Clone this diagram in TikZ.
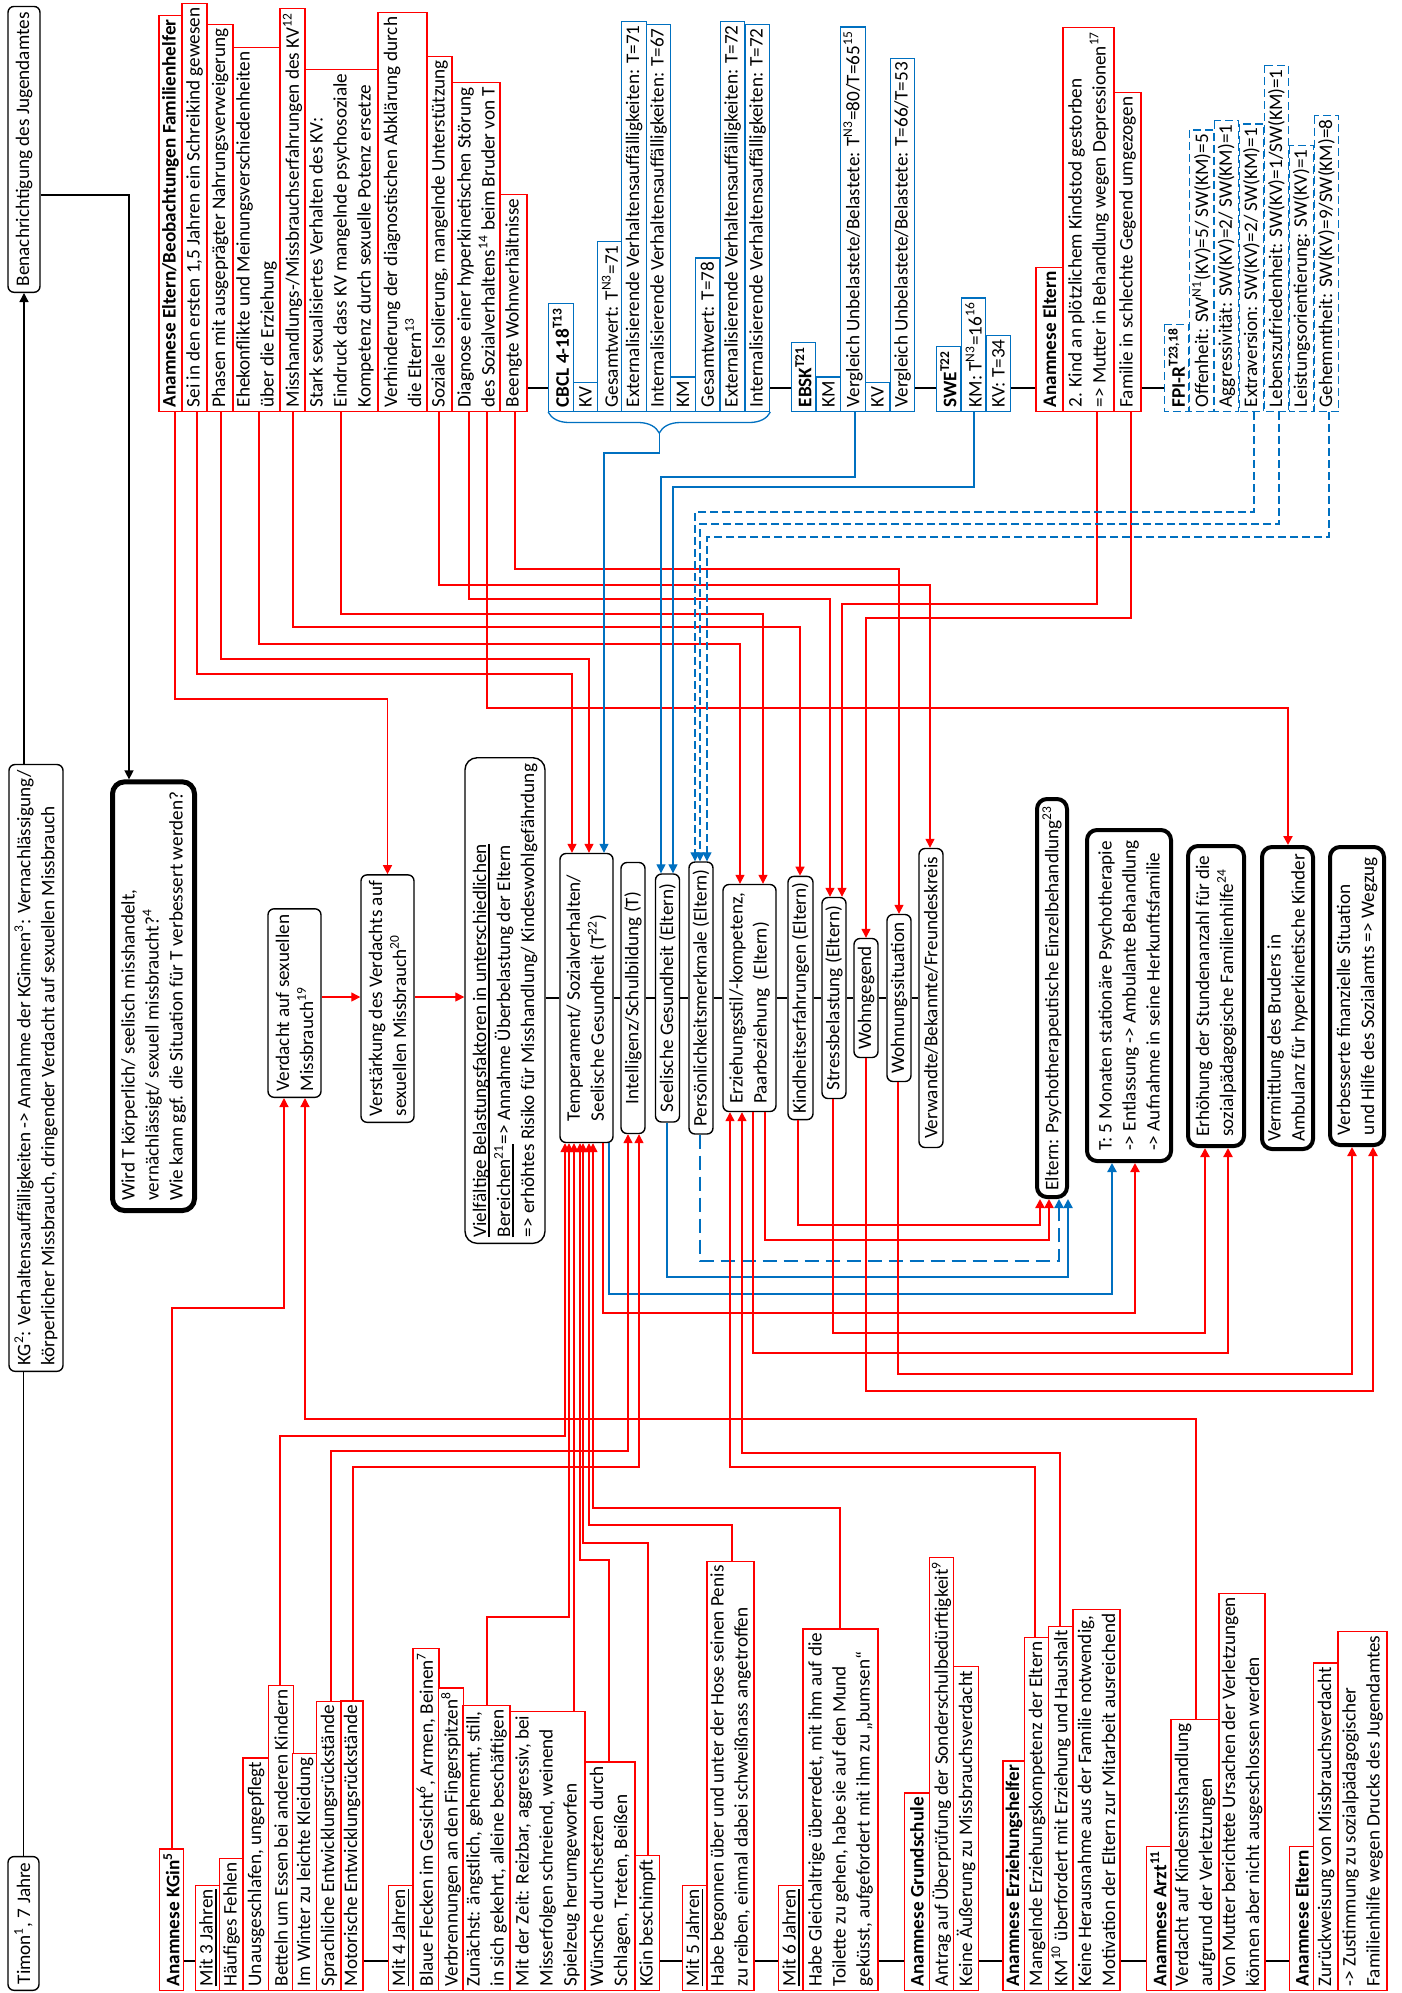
\documentclass[tikz,border=0pt]{standalone}
\usepackage{fontspec}
\setmainfont{Carlito}
\usetikzlibrary{arrows.meta}
\usetikzlibrary{decorations.pathreplacing}
\definecolor{msblue}{RGB}{0,112,192}
\newcommand{\ulbar}[1]{\setbox0=\hbox{#1}\rlap{\rule[-2pt]{\wd0}{0.8pt}}\box0}
\tikzset{
  every node/.style={rotate=90, font=\fontsize{9.6}{12}\selectfont},
  redbox/.style={draw=red, fill=white, line width=0.65pt, anchor=west, align=left, inner xsep=2pt, inner ysep=0.5pt, minimum height=12.25pt},
  bluebox/.style={redbox, draw=msblue},
  fpibox/.style={bluebox, dash pattern=on 4pt off 2pt},
  roundbox/.style={draw=black, fill=white, line width=0.7pt, rounded corners=3pt, align=left, inner xsep=3pt, inner ysep=0.5pt},
  thickbox/.style={roundbox, line width=2pt, rounded corners=5pt},
  redline/.style={red, line width=0.65pt},
  boldline/.style={red, line width=1.15pt},
  blueline/.style={msblue, line width=0.65pt},
  boldblue/.style={msblue, line width=1.15pt},
  dashblue/.style={msblue, line width=0.65pt, dash pattern=on 4pt off 2pt},
  bolddash/.style={msblue, line width=1.15pt, dash pattern=on 7pt off 3.5pt},
  blackline/.style={black, line width=0.7pt},
  arr/.style={-{Triangle[length=4.5pt,width=4.5pt]}}
}

\begin{document}
\begin{tikzpicture}[x=0.5pt, y=-0.5pt]
  \fill[white] (0,0) rectangle (1402,1993);
  \useasboundingbox (0,0) rectangle (1402,1993);

  \node[roundbox, anchor=west, minimum height=15.5pt] (timon) at (23.5,1991) {Timon\textsuperscript{1}, 7 Jahre};
  \node[roundbox, anchor=west, minimum height=27pt] (kgbox) at (36,1372) {KG\textsuperscript{2}: Verhaltensauffälligkeiten -> Annahme der KGinnen\textsuperscript{3}: Vernachlässigung/\\körperlicher Missbrauch, dringender Verdacht auf sexuellen Missbrauch};
  \node[roundbox, anchor=west, minimum height=16pt] (jugend) at (24,293) {Benachrichtigung des Jugendamtes};

  \node[redbox, minimum height=11.5pt] (eb0) at (170.5,412) {\textbf{Anamnese Eltern/Beobachtungen Familienhelfer}};
  \node[redbox, minimum height=12.5pt] (eb1) at (194.5,412) {Sei in den ersten 1,5 Jahren ein Schreikind gewesen};
  \node[redbox, minimum height=13pt] (eb2) at (220,412) {Phasen mit ausgeprägter Nahrungsverweigerung};
  \node[redbox, minimum height=23.5pt] (eb3) at (256.5,412) {Ehekonflikte und Meinungsverschiedenheiten\\über die Erziehung};
  \node[redbox, minimum height=12.5pt] (eb4) at (292.5,412) {Misshandlungs-/Missbrauchserfahrungen des KV\textsuperscript{12}};
  \node[redbox, minimum height=36.5pt] (eb5) at (341.5,412) {Stark sexualisiertes Verhalten des KV:\\Eindruck dass KV mangelnde psychosoziale\\Kompetenz durch sexuelle Potenz ersetze};
  \node[redbox, minimum height=24.5pt] (eb6) at (402.5,412) {Verhinderung der diagnostischen Abklärung durch\\die Eltern\textsuperscript{13}};
  \node[redbox, minimum height=12.5pt] (eb7) at (439.5,412) {Soziale Isolierung, mangelnde Unterstützung};
  \node[redbox, minimum height=24pt] (eb8) at (476,412) {Diagnose einer hyperkinetischen Störung\\des Sozialverhaltens\textsuperscript{14} beim Bruder von T};
  \node[redbox, minimum height=13.5pt] (eb9) at (513.5,412) {Beengte Wohnverhältnisse};

  \node[bluebox] (cbcl) at (561,412) {\textbf{CBCL 4-18}\textsuperscript{\textbf{T13}}};
  \node[bluebox] (cb1) at (585.5,412) {KV};
  \node[bluebox] (cb2) at (610,412) {Gesamtwert: T\textsuperscript{N3}=71};
  \node[bluebox] (cb3) at (634,412) {Externalisierende Verhaltensauffälligkeiten: T=71};
  \node[bluebox] (cb4) at (658.5,412) {Internalisierende Verhaltensauffälligkeiten: T=67};
  \node[bluebox] (cb5) at (683,412) {KM};
  \node[bluebox] (cb6) at (707.5,412) {Gesamtwert: T=78};
  \node[bluebox] (cb7) at (732.5,412) {Externalisierende Verhaltensauffälligkeiten: T=72};
  \node[bluebox] (cb8) at (757.5,412) {Internalisierende Verhaltensauffälligkeiten: T=72};
  \node[bluebox] (ebsk) at (803.5,412) {\textbf{EBSK}\textsuperscript{\textbf{T21}}};
  \node[bluebox] (ebs1) at (828.5,412) {KM};
  \node[bluebox] (ebs2) at (853,412) {Vergleich Unbelastete/Belastete: T\textsuperscript{N3}=80/T=65\textsuperscript{15}};
  \node[bluebox] (ebs3) at (877.5,412) {KV};
  \node[bluebox] (ebs4) at (902.5,412) {Vergleich Unbelastete/Belastete: T=66/T=53};
  \node[bluebox] (swe) at (948.5,412) {\textbf{SWE}\textsuperscript{\textbf{T22}}};
  \node[bluebox] (sw1) at (973.5,412) {KM: T\textsuperscript{N3}=16\textsuperscript{16}};
  \node[bluebox] (sw2) at (998.5,412) {KV: T=34};
  \node[redbox, minimum height=13.5pt] (ane) at (1049.5,412) {\textbf{Anamnese Eltern}};
  \node[redbox, minimum height=25.5pt] (an1) at (1088.5,412) {2. Kind an plötzlichem Kindstod gestorben\\=> Mutter in Behandlung wegen Depressionen\textsuperscript{17}};
  \node[redbox, minimum height=13.5pt] (an2) at (1127.5,412) {Familie in schlechte Gegend umgezogen};
  \node[fpibox] (fpi) at (1176.5,412) {\textbf{FPI-R}\textsuperscript{\textbf{T23,18}}};
  \node[fpibox] (fp1) at (1201.5,412) {Offenheit: SW\textsuperscript{N1}(KV)=5/ SW(KM)=5};
  \node[fpibox] (fp2) at (1226.5,412) {Aggressivität: SW(KV)=2/ SW(KM)=1};
  \node[fpibox] (fp3) at (1251.5,412) {Extraversion: SW(KV)=2/ SW(KM)=1};
  \node[fpibox] (fp4) at (1276.5,412) {Lebenszufriedenheit: SW(KV)=1/SW(KM)=1};
  \node[fpibox] (fp5) at (1301.5,412) {Leistungsorientierung: SW(KV)=1};
  \node[fpibox] (fp6) at (1326.5,412) {Gehemmtheit: SW(KV)=9/SW(KM)=8};

  \node[thickbox, anchor=west, minimum height=41pt, inner xsep=5pt, line width=2.5pt, rounded corners=6pt] (wirdt) at (153.5,1213) {Wird T körperlich/ seelisch misshandelt,\\vernächlässigt/ sexuell missbraucht?\textsuperscript{4}\\Wie kann ggf. die Situation für T verbessert werden?};
  \node[roundbox, anchor=west, minimum height=26.5pt] (verd) at (294.5,1098) {Verdacht auf sexuellen\\Missbrauch\textsuperscript{19}};
  \node[roundbox, anchor=west, minimum height=26.5pt] (verst) at (387.5,1123) {Verstärkung des Verdachts auf\\sexuellen Missbrauch\textsuperscript{20}};
  \node[roundbox, anchor=west, minimum height=40pt, rounded corners=6pt] (vielf) at (505,1244) {\ulbar{Vielfältige Belastungsfaktoren in unterschiedlichen}\\\ulbar{Bereichen\textsuperscript{21}} => Annahme Überbelastung der Eltern\\=> erhöhtes Risiko für Misshandlung/ Kindeswohlgefährdung};

  \node[roundbox, minimum height=26.5pt, minimum width=144.5pt] (temp) at (586.5,998) {Temperament/ Sozialverhalten/\\Seelische Gesundheit (T\textsuperscript{22})};
  \node[roundbox, minimum height=12pt, minimum width=135.5pt] (intel) at (633,998) {Intelligenz/Schulbildung (T)};
  \node[roundbox, minimum height=12pt, minimum width=124pt] (seel) at (667.5,998) {Seelische Gesundheit (Eltern)};
  \node[roundbox, minimum height=12pt, minimum width=136pt] (pers) at (701,998) {Persönlichkeitsmerkmale (Eltern)};
  \node[roundbox, minimum height=26.5pt, minimum width=113.5pt] (erz) at (749.5,998) {Erziehungsstil/-kompetenz,\\Paarbeziehung\ \ (Eltern)};
  \node[roundbox, minimum height=12.5pt, minimum width=121pt] (kind) at (800.5,998) {Kindheitserfahrungen (Eltern)};
  \node[roundbox, minimum height=12pt, minimum width=100.5pt] (stress) at (834,998) {Stressbelastung (Eltern)};
  \node[roundbox, minimum height=12pt, minimum width=59.5pt] (wgeg) at (866,998) {Wohngegend};
  \node[roundbox, minimum height=12pt, minimum width=83.5pt] (wsit) at (899,998) {Wohnungssituation};
  \node[roundbox, minimum height=12pt, minimum width=149.5pt] (verw) at (931,998) {Verwandte/Bekannte/Freundeskreis};

  \node[thickbox, minimum height=15pt, minimum width=199pt] (ipsy) at (1052,998) {Eltern: Psychotherapeutische Einzelbehandlung\textsuperscript{23}};
  \node[thickbox, minimum height=42pt, minimum width=165.5pt] (istat) at (1129,995.5) {T: 5 Monaten stationäre Psychotherapie\\-> Entlassung -> Ambulante Behandlung\\-> Aufnahme in seine Herkunftsfamilie};
  \node[thickbox, minimum height=28pt, minimum width=150pt] (ierh) at (1216,996) {Erhöhung der Stundenanzahl für die\\sozialpädagogische Familienhilfe\textsuperscript{24}};
  \node[thickbox, minimum height=25.5pt, minimum width=151pt] (ibrud) at (1287.5,998) {Vermittlung des Bruders in\\Ambulanz für hyperkinetische Kinder};
  \node[thickbox, minimum height=27pt, minimum width=149pt] (ifin) at (1357,996) {Verbesserte finanzielle Situation\\und Hilfe des Sozialamts => Wegzug};

  \node[redbox] (kg0) at (171.5,1991) {\textbf{Anamnese KGin}\textsuperscript{\textbf{5}}};
  \node[redbox] (k31) at (208,1991) {\ulbar{Mit 3 Jahren}};
  \node[redbox] (k32) at (231.5,1991) {Häufiges Fehlen};
  \node[redbox, minimum height=13pt] (k33) at (256,1991) {Unausgeschlafen, ungepflegt};
  \node[redbox] (k34) at (281,1991) {Betteln um Essen bei anderen Kindern};
  \node[redbox] (k35) at (305,1991) {Im Winter zu leichte Kleidung};
  \node[redbox] (k36) at (329,1991) {Sprachliche Entwicklungsrückstände};
  \node[redbox, minimum height=11pt] (k37) at (352,1991) {Motorische Entwicklungsrückstände};
  \node[redbox] (k41) at (400.5,1991) {\ulbar{Mit 4 Jahren}};
  \node[redbox, minimum height=13pt] (k42) at (426,1991) {Blaue Flecken im Gesicht\textsuperscript{6}, Armen, Beinen\textsuperscript{7}};
  \node[redbox] (k43) at (451,1991) {Verbrennungen an den Fingerspitzen\textsuperscript{8}};
  \node[redbox, minimum height=23.5pt] (k44) at (486.5,1991) {Zunächst: ängstlich, gehemmt, still,\\in sich gekehrt, alleine beschäftigen};
  \node[redbox, minimum height=37.5pt] (k45) at (547.5,1991) {Mit der Zeit: Reizbar, aggressiv, bei\\Misserfolgen schreiend, weinend\\Spielzeug herumgeworfen};
  \node[redbox, minimum height=25pt] (k46) at (610,1991) {Wünsche durchsetzen durch\\Schlagen, Treten, Beißen};
  \node[redbox] (k47) at (647.5,1991) {KGin beschimpft};
  \node[redbox] (k51) at (694.5,1991) {\ulbar{Mit 5 Jahren}};
  \node[redbox, minimum height=23.5pt] (k52) at (730.5,1991) {Habe begonnen über und unter der Hose seinen Penis\\zu reiben, einmal dabei schweißnass angetroffen};
  \node[redbox] (k61) at (791,1991) {\ulbar{Mit 6 Jahren}};
  \node[redbox, minimum height=37.5pt] (k62) at (840.5,1991) {Habe Gleichaltrige überredet, mit ihm auf die\\Toilette zu gehen, habe sie auf den Mund\\geküsst, aufgefordert mit ihm zu „bumsen“};
  \node[redbox] (gs0) at (917,1991) {\textbf{Anamnese Grundschule}};
  \node[redbox] (gs1) at (941.5,1991) {Antrag auf Überprüfung der Sonderschulbedürftigkeit\textsuperscript{9}};
  \node[redbox] (gs2) at (966,1991) {Keine Äußerung zu Missbrauchsverdacht};
  \node[redbox, minimum height=11pt] (eh0) at (1014,1991) {\textbf{Anamnese Erziehungshelfer}};
  \node[redbox] (eh1) at (1037,1991) {Mangelnde Erziehungskompetenz der Eltern};
  \node[redbox] (eh2) at (1061,1991) {KM\textsuperscript{10} überfordert mit Erziehung und Haushalt};
  \node[redbox, minimum height=23.5pt] (eh3) at (1096.5,1991) {Keine Herausnahme aus der Familie notwendig,\\Motivation der Eltern zur Mitarbeit ausreichend};
  \node[redbox] (az0) at (1158.5,1991) {\textbf{Anamnese Arzt}\textsuperscript{\textbf{11}}};
  \node[redbox, minimum height=24pt] (az1) at (1195,1991) {Verdacht auf Kindesmisshandlung\\aufgrund der Verletzungen};
  \node[redbox, minimum height=23pt] (az2) at (1242,1991) {Von Mutter berichtete Ursachen der Verletzungen\\können aber nicht ausgeschlossen werden};
  \node[redbox] (el0) at (1302,1991) {\textbf{Anamnese Eltern}};
  \node[redbox] (el1) at (1326,1991) {Zurückweisung von Missbrauchsverdacht};
  \node[redbox, minimum height=24.5pt] (el2) at (1362.5,1991) {-> Zustimmung zu sozialpädagogischer\\Familienhilfe wegen Drucks des Jugendamtes};

  \draw[blackline] (timon.east) -- (kgbox.west -| timon.east);
  \draw[blackline, arr] (kgbox.east -| jugend.west) -- (jugend.west);
  \draw[blackline, arr] (jugend.south |- 0,195) -| (wirdt.east -| 129,0);

  \draw[blackline] (eb9.south |- 0,388) -- (cbcl.north |- 0,388);
  \draw[blackline] (cb8.south |- 0,388) -- (ebsk.north |- 0,388);
  \draw[blackline] (ebs4.south |- 0,388) -- (swe.north |- 0,388);
  \draw[blackline] (sw2.south |- 0,388) -- (ane.north |- 0,388);
  \draw[blackline] (an2.south |- 0,388) -- (fpi.north |- 0,388);
  \draw[blackline] (kg0.south |- 0,1961) -- (k31.north |- 0,1961);
  \draw[blackline] (k37.south |- 0,1961) -- (k41.north |- 0,1961);
  \draw[blackline] (k47.south |- 0,1961) -- (k51.north |- 0,1961);
  \draw[blackline] (k52.south |- 0,1961) -- (k61.north |- 0,1961);
  \draw[blackline] (k62.south |- 0,1961) -- (gs0.north |- 0,1961);
  \draw[blackline] (gs2.south |- 0,1961) -- (eh0.north |- 0,1961);
  \draw[blackline] (eh3.south |- 0,1961) -- (az0.north |- 0,1961);
  \draw[blackline] (az2.south |- 0,1961) -- (el0.north |- 0,1961);

  \draw[redline, arr] (verd.south |- 0,997) -- (verst.north |- 0,997);
  \draw[redline, arr] (verst.south |- 0,997) -- (vielf.north |- 0,997);
  \draw[blackline] (vielf.south |- temp.north) -- (temp.north);
  \draw[blackline] (temp.south) -- (intel.north);
  \draw[blackline] (intel.south) -- (seel.north);
  \draw[blackline] (seel.south) -- (pers.north);
  \draw[blackline] (pers.south) -- (erz.north);
  \draw[blackline] (erz.south) -- (kind.north);
  \draw[blackline] (kind.south) -- (stress.north);
  \draw[blackline] (stress.south) -- (wgeg.north);
  \draw[blackline] (wgeg.south) -- (wsit.north);
  \draw[blackline] (wsit.south) -- (verw.north);

  \draw[redline, arr] (eb0.west -| 175,0) -- (175,699) -| (verst.east);
  \draw[redline, arr] (eb1.west -| 197,0) |- (572,674) -- (temp.east -| 572,0);
  \draw[redline, arr] (eb2.west -| 221,0) |- (589,659) -- (temp.east -| 589,0);
  \draw[redline, arr] (eb3.west -| 259,0) |- (740,644) -- (erz.east -| 740,0);
  \draw[redline, arr] (eb4.west -| 293,0) |- (800,627) -- (kind.east -| 800,0);
  \draw[redline, arr] (eb5.west -| 341,0) |- (763,614) -- (erz.east -| 763,0);
  \draw[redline, arr] (eb7.west -| 439,0) |- (930,585) -- (verw.east -| 930,0);
  \draw[redline, arr] (eb8.west -| 469,0) |- (830,599) -- (stress.east -| 830,0);
  \draw[boldline, arr] (eb8.west -| 487,0) |- (1288,708) -- (ibrud.east -| 1288,0);
  \draw[redline, arr] (eb9.west -| 515,0) |- (899,569) -- (wsit.east -| 899,0);
  \draw[redline, arr] (an1.west -| 1097,0) |- (842,604) -- (stress.east -| 842,0);
  \draw[redline, arr] (an2.west -| 1131,0) |- (866,618) -- (wgeg.east -| 866,0);

  \draw[blueline, decorate, decoration={brace, amplitude=10.5pt}] (cb8.south west) -- (cbcl.north west);
  \coordinate (cbtip) at (659.5,433);
  \draw[blueline, arr] (cbtip) |- (604,453) -- (temp.east -| 604,0);
  \draw[blueline, arr] (ebs2.west -| 855,0) |- (661,477) -- (seel.east -| 661,0);
  \draw[blueline, arr] (sw1.west -| 974,0) |- (673,487) -- (seel.east -| 673,0);
  \draw[dashblue, arr] (fp3.west -| 1254,0) |- (695,512) -- (pers.east -| 695,0);
  \draw[dashblue, arr] (fp4.west -| 1279,0) |- (700,524) -- (pers.east -| 700,0);
  \draw[dashblue, arr] (fp6.west -| 1329,0) |- (707,537) -- (pers.east -| 707,0);

  \draw[boldline, arr] (temp.west -| 603,0) |- (1135,1313) -- (istat.west -| 1135,0);
  \draw[boldblue, arr] (temp.west -| 609,0) |- (1112,1294) -- (istat.west -| 1112,0);
  \draw[boldblue, arr] (seel.west -| 667,0) |- (1068,1277) -- (ipsy.west -| 1068,0);
  \draw[bolddash, arr] (pers.west -| 700,0) |- (1059,1261) -- (ipsy.west -| 1059,0);
  \draw[boldline, arr] (erz.west -| 765,0) |- (1049,1240) -- (ipsy.west -| 1049,0);
  \draw[boldline, arr] (erz.west -| 753,0) |- (1228,1353) -- (ierh.west -| 1228,0);
  \draw[boldline, arr] (kind.west -| 798,0) |- (1040,1225) -- (ipsy.west -| 1040,0);
  \draw[boldline, arr] (stress.west -| 833,0) |- (1205,1333) -- (ierh.west -| 1205,0);
  \draw[boldline, arr] (wgeg.west -| 866,0) |- (1373,1391) -- (ifin.west -| 1373,0);
  \draw[boldline, arr] (wsit.west -| 898,0) |- (1352,1374) -- (ifin.west -| 1352,0);

  \draw[redline, arr] (kg0.east -| 172,0) |- (284,1308) -- (verd.west -| 284,0);
  \draw[redline, arr] (az1.east -| 1196,0) |- (305,1419) -- (verd.west -| 305,0);
  \draw[redline, arr] (k34.east -| 280,0) |- (565,1436) -- (temp.west -| 565,0);
  \draw[redline, arr] (k44.east -| 487,0) |- (569,1617) -- (temp.west -| 569,0);
  \draw[redline, arr] (k45.east -| 574,0) -- (temp.west -| 574,0);
  \draw[redline, arr] (k46.east -| 609,0) |- (580,1560) -- (temp.west -| 580,0);
  \draw[redline, arr] (k47.east -| 648,0) |- (583,1543) -- (temp.west -| 583,0);
  \draw[redline, arr] (k52.east -| 732,0) |- (589,1525) -- (temp.west -| 589,0);
  \draw[redline, arr] (k62.east -| 840,0) |- (593,1508) -- (temp.west -| 593,0);
  \draw[redline, arr] (k36.east -| 331,0) |- (628,1451) -- (intel.west -| 628,0);
  \draw[redline, arr] (k37.east -| 353,0) |- (639,1467) -- (intel.west -| 639,0);
  \draw[redline, arr] (eh1.east -| 1035,0) |- (730,1467) -- (erz.west -| 730,0);
  \draw[redline, arr] (eh2.east -| 1060,0) |- (742,1453) -- (erz.west -| 742,0);
\end{tikzpicture}
\end{document}
